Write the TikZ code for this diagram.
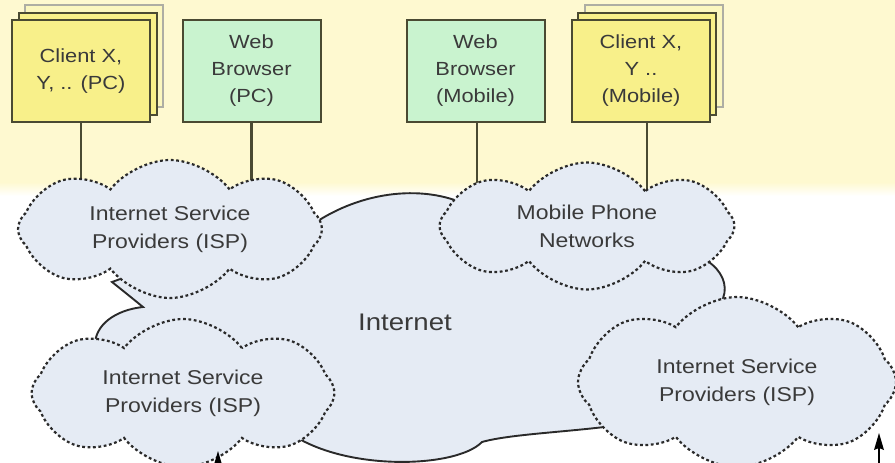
\documentclass[tikz,border=0pt]{standalone}
\usepackage{fontspec}
\setmainfont{Liberation Sans}[FakeStretch=1.15]
\usetikzlibrary{shapes.symbols,calc}
\definecolor{bandyellow}{HTML}{FEF9D0}
\definecolor{clientfill}{HTML}{F8F08A}
\definecolor{webfill}{HTML}{C9F3CF}
\definecolor{boxline}{HTML}{4A4A32}
\definecolor{cloudfill}{HTML}{E5EBF4}
\definecolor{cloudline}{HTML}{2A2A2A}
\definecolor{txt}{HTML}{3A3A3A}
\pgfdeclarelayer{bg}
\pgfsetlayers{bg,main}
\begin{document}
\begin{tikzpicture}[x=1pt,y=-1pt,
  box/.style={draw=boxline, line width=2pt, minimum width=138pt, minimum height=102pt, inner sep=0pt, align=center, text=txt, font=\fontsize{19}{27}\selectfont},
  clientbox/.style={box, fill=clientfill},
  webbox/.style={box, fill=webfill},
  backpage/.style={draw=boxline, line width=1.8pt, minimum width=138pt, minimum height=102pt, fill=clientfill},
  farpage/.style={draw=boxline!45, line width=1.6pt, minimum width=138pt, minimum height=102pt, fill=clientfill!55},
  isp/.style={cloud, cloud puffs=8, cloud puff arc=105, cloud ignores aspect, draw=cloudline, line width=2.2pt, dash pattern=on 2.8pt off 2.6pt, fill=cloudfill, align=center, text=txt, font=\fontsize{20}{28}\selectfont, inner sep=0pt},
  link/.style={draw=boxline, line width=2.6pt},
  shaft/.style={draw=black, line width=2pt},
  arrowhead/.style={fill=black}]
\useasboundingbox (0,0) rectangle (895,463);
\clip (0,0) rectangle (895,463);

% client / browser boxes
\node[farpage] (c1far) at (94,56) {};
\node[backpage] (c1mid) at (88,64) {};
\node[clientbox] (c1) at (81,71) {Client X,\\Y, .. (PC)};
\node[webbox] (w1) at (251.5,71) {Web\\Browser\\(PC)};
\node[webbox] (w2) at (475.5,71) {Web\\Browser\\(Mobile)};
\node[farpage] (c4far) at (654,56) {};
\node[backpage] (c4mid) at (647,64) {};
\node[clientbox] (c4) at (641,71) {Client X,\\Y ..\\(Mobile)};

% clouds
\node[isp, minimum width=304pt, minimum height=138pt] (isp1) at (170,229) {Internet Service\\Providers (ISP)};
\node[isp, minimum width=295pt, minimum height=127pt] (mob) at (587,226) {Mobile Phone\\Networks};
\node[isp, minimum width=303pt, minimum height=148pt] (isp2) at (183,393) {Internet Service\\Providers (ISP)};
\node[isp, minimum width=318pt, minimum height=170pt] (isp3) at (737,382) {Internet Service\\Providers (ISP)};
\node[text=txt, font=\fontsize{24}{28}\selectfont] (inet) at (405,322) {Internet};

% arrows coming from below (free ends outside the picture)
\coordinate (a1) at (218,490);
\coordinate (a2) at (879,490);
\coordinate (tip1) at ($(a1 |- isp2.center)+(0,58)$);
\coordinate (tip2) at ($(a2 |- isp3.center)+(0,51)$);
\draw[shaft] (a1) -- ($(tip1)+(0,10)$);
\draw[shaft] (a2) -- ($(tip2)+(0,10)$);
\fill[arrowhead] (tip1) -- ($(tip1)+(-5,17)$) -- ($(tip1)+(0,15)$) -- ($(tip1)+(5,17)$) -- cycle;
\fill[arrowhead] (tip2) -- ($(tip2)+(-5,17)$) -- ($(tip2)+(0,15)$) -- ($(tip2)+(5,17)$) -- cycle;

\begin{pgfonlayer}{bg}
  \fill[bandyellow] (0,0) rectangle (895,182);
  \shade[top color=bandyellow, bottom color=white] (0,182) rectangle (895,196);
  \path[draw=cloudline, line width=1.9pt, fill=cloudfill]
    (143,307) .. controls (132,298) and (122,290) .. (112,282)
    -- (200,250) -- (305,230)
    .. controls (350,195) and (415,182) .. (465,204)
    -- (600,240) -- (695,255)
    .. controls (732,268) and (738,308) .. (693,321)
    -- (650,370) -- (620,425)
    .. controls (570,432) and (510,434) .. (482,442)
    .. controls (455,470) and (330,472) .. (280,425)
    -- (200,400) -- (95,345)
    .. controls (95,325) and (115,310) .. (143,307) -- cycle;
  \draw[link] (c1.south) -- (c1.south |- isp1.center);
  \draw[link] (w1.south) -- (w1.south |- isp1.center);
  \draw[link] ([xshift=1.5pt]w2.south) -- ([xshift=1.5pt]w2.south |- mob.center);
  \draw[link] ([xshift=6pt]c4.south) -- ([xshift=6pt]c4.south |- mob.center);
\end{pgfonlayer}
\end{tikzpicture}
\end{document}
